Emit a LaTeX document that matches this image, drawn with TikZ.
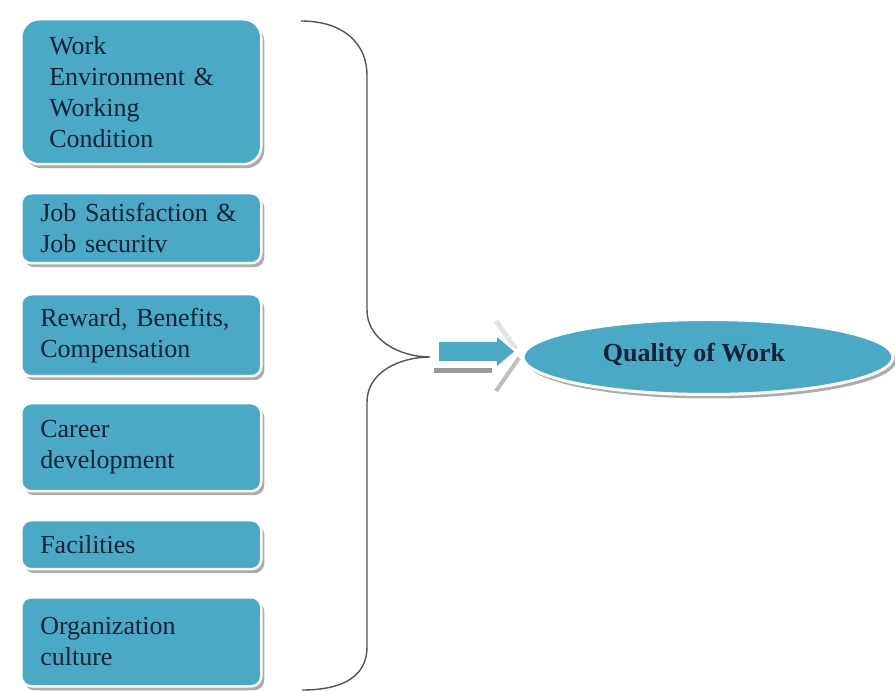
\documentclass[tikz,border=0pt]{standalone}
\usepackage{fontspec}
\setmainfont{Liberation Serif}
\usetikzlibrary{shapes.geometric,shadows}
\definecolor{boxfill}{HTML}{4AAAC6}
\definecolor{boxtext}{HTML}{0E2233}
\definecolor{bracecol}{HTML}{555555}
\begin{document}
\begin{tikzpicture}[x=1pt,y=-1pt,
  factor/.style={rectangle, rounded corners=10pt, fill=boxfill, draw=white, line width=2.5pt,
    drop shadow={shadow xshift=3pt, shadow yshift=-4pt, fill=black!50, opacity=0.65},
    anchor=north west, inner xsep=19pt, inner ysep=4pt, text width=202pt, align=left,
    text=boxtext, font=\fontsize{26}{31}\selectfont},
  goal/.style={ellipse, fill=boxfill, draw=white, line width=3pt,
    drop shadow={shadow xshift=3pt, shadow yshift=-4pt, fill=black!50, opacity=0.65}},
  goaltext/.style={text=boxtext, font=\bfseries\fontsize{26}{31}\selectfont},
  brace/.style={draw=bracecol, line width=1.4pt}]
\useasboundingbox (0,0) rectangle (895,692);

% factor boxes
\node[factor, rounded corners=18pt, inner xsep=28pt, text width=184pt, minimum height=145pt]
  (env) at (20,18) {Work\\Environment \&\\Working\\Condition};
\node[factor, minimum height=70pt] (job) at (20,192) {Job Satisfaction \&\\Job securitv};
\node[factor, minimum height=82pt] (rew) at (20,293) {Reward, Benefits,\\Compensation};
\node[factor, minimum height=88pt] (car) at (20,402) {Career\\development};
\node[factor, minimum height=49pt] (fac) at (20,519) {Facilities};
\node[factor, minimum height=89pt] (org) at (20,596) {Organization\\culture};

% brace gathering the factors
\coordinate (btop) at (301,21);
\coordinate (btip) at (430,357);
\coordinate (bbot) at (302,690);
\draw[brace] (btop) .. controls (345,21) and (367,45) .. (367,75) -- (367,310)
  .. controls (367,340) and (400,357) .. (btip)
  .. controls (400,357) and (367,372) .. (367,402) -- (367,647)
  .. controls (367,675) and (345,690) .. (bbot);

% block arrow with its bevel
\draw[gray!22, line width=5pt] (496,321) -- (516,349);
\draw[gray!50, line width=4pt] (519,358) -- (496,391);
\fill[black!40] (434,368) rectangle (492,373);
\path[draw=white, line width=5pt, line join=miter]
  (439,342) -- (497,342) -- (497,337) -- (514,351.5) -- (497,366) -- (497,361) -- (439,361) -- cycle;
\fill[boxfill]
  (439,342) -- (497,342) -- (497,337) -- (514,351.5) -- (497,366) -- (497,361) -- (439,361) -- cycle;

% outcome
\node[goal, minimum width=370pt, minimum height=75pt] (qw) at (708,357) {};
\node[goaltext] (qwt) at (694,355) {Quality of Work};
\end{tikzpicture}
\end{document}
